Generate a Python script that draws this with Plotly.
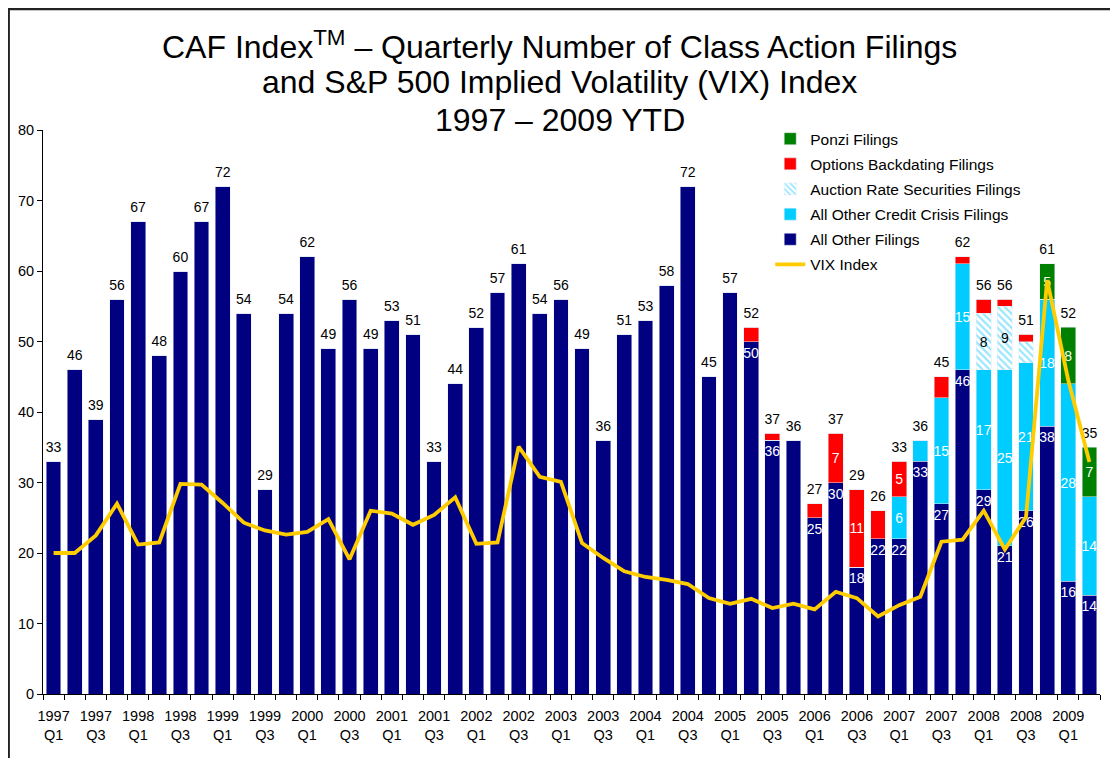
import plotly.graph_objects as go

# quarters 1997 Q1 .. 2009 Q2
years = [1997, 1998, 1999, 2000, 2001, 2002, 2003, 2004, 2005, 2006, 2007, 2008, 2009]
quarters = [f"{y} Q{q}" for y in years for q in (1, 2, 3, 4)][:50]
tick_text = [f"{q.split()[0]}<br>{q.split()[1]}" if q.endswith(("Q1", "Q3")) else "" for q in quarters]

all_other = [33, 46, 39, 56, 67, 48, 60, 67, 72, 54, 29, 54, 62, 49, 56, 49,
             53, 51, 33, 44, 52, 57, 61, 54, 56, 49, 36, 51, 53, 58, 72, 45,
             57, 50, 36, 36, 25, 30, 18, 22, 22, 33, 27, 46, 29, 21, 26, 38,
             16, 14]
credit_crisis = [0] * 40 + [6, 3, 15, 15, 17, 25, 21, 18, 28, 14]
auction_rate = [0] * 44 + [8, 9, 3, 0, 0, 0]
backdating = [0] * 33 + [2, 1, 0, 2, 7, 11, 4, 5, 0, 3, 1, 2, 1, 1, 0, 0, 0]
ponzi = [0] * 47 + [5, 8, 7]
vix = [20.0, 20.0, 22.5, 27.0, 21.2, 21.5, 29.8, 29.7, 27.1, 24.3, 23.2, 22.6,
       23.0, 24.8, 19.1, 26.0, 25.6, 24.0, 25.4, 27.9, 21.3, 21.5, 35.1, 30.8,
       30.1, 21.4, 19.3, 17.4, 16.6, 16.2, 15.6, 13.6, 12.8, 13.5, 12.2, 12.8,
       12.0, 14.5, 13.6, 11.0, 12.6, 13.8, 21.6, 21.9, 26.0, 20.5, 25.1, 58.7,
       44.5, 32.9]

title_lines = ["CAF Index<sup>TM</sup> – Quarterly Number of Class Action Filings",
               "and S&P 500 Implied Volatility (VIX) Index",
               "1997 – 2009 YTD"]

totals = [a + b + c + d + e for a, b, c, d, e in zip(all_other, credit_crisis, auction_rate, backdating, ponzi)]

FONT = "Liberation Sans, Arial, sans-serif"


def seg_text(vals):
    return [str(v) if v >= 5 else "" for v in vals]


fig = go.Figure()

fig.add_trace(go.Bar(
    x=quarters, y=all_other, name="All Other Filings", marker_color="#000080",
    text=[str(v) if v != t else "" for v, t in zip(all_other, totals)],
    textposition="inside", insidetextanchor="end", textangle=0, constraintext="none",
    textfont=dict(color="white", size=14, family=FONT),
    legendrank=5, legendgroup="g5"))
fig.add_trace(go.Bar(
    x=quarters, y=credit_crisis, name="All Other Credit Crisis Filings", marker_color="#00CCFF",
    text=seg_text(credit_crisis), textposition="inside", insidetextanchor="middle",
    textangle=0, constraintext="none",
    textfont=dict(color="white", size=14, family=FONT),
    legendrank=4, legendgroup="g4"))
fig.add_trace(go.Bar(
    x=quarters, y=auction_rate, name="Auction Rate Securities Filings",
    marker=dict(color="white", pattern=dict(shape="\\", fgcolor="#33CCFF", bgcolor="white",
                                            size=5, solidity=0.45)),
    text=seg_text(auction_rate), textposition="inside", insidetextanchor="middle",
    textangle=0, constraintext="none",
    textfont=dict(color="black", size=14, family=FONT),
    legendrank=3, legendgroup="g3"))
fig.add_trace(go.Bar(
    x=quarters, y=backdating, name="Options Backdating Filings", marker_color="#FF0000",
    text=seg_text(backdating), textposition="inside", insidetextanchor="middle",
    textangle=0, constraintext="none",
    textfont=dict(color="white", size=14, family=FONT),
    legendrank=2, legendgroup="g2"))
fig.add_trace(go.Bar(
    x=quarters, y=ponzi, name="Ponzi Filings", marker_color="#008000",
    text=seg_text(ponzi), textposition="inside", insidetextanchor="middle",
    textangle=0, constraintext="none",
    textfont=dict(color="white", size=14, family=FONT),
    legendrank=1, legendgroup="g1"))

# totals above bars
fig.add_trace(go.Scatter(
    x=quarters, y=totals, mode="markers+text", text=[str(t) for t in totals],
    marker=dict(size=8, color="rgba(0,0,0,0)"),
    textposition="top center", textfont=dict(color="black", size=14, family=FONT),
    showlegend=False, hoverinfo="skip"))

fig.add_trace(go.Scatter(
    x=quarters, y=vix, mode="lines", name="VIX Index",
    line=dict(color="#FFCC00", width=3.8), legendrank=6, legendgroup="g6"))

# page body adds an 8px offset, margins compensate for it
fig.update_layout(
    width=1118, height=758,
    barmode="stack", bargap=0.3,
    plot_bgcolor="white", paper_bgcolor="white",
    font=dict(family=FONT, size=14, color="black"),
    margin=dict(l=35, r=26, t=122, b=72, autoexpand=False),
    legend=dict(x=0.688, y=1.014, xanchor="left", yanchor="top",
                bgcolor="rgba(0,0,0,0)", font=dict(size=15.5, family=FONT),
                tracegroupgap=2),
    showlegend=True,
)
for line, ypos in zip(title_lines, [1.1507, 1.0851, 1.0177]):
    fig.add_annotation(text=line, xref="paper", yref="paper", x=0.489, y=ypos,
                       xanchor="center", yanchor="middle", showarrow=False,
                       font=dict(family=FONT, size=32, color="black"))

fig.update_xaxes(
    type="category", tickmode="array", tickvals=quarters, ticktext=tick_text,
    range=[-0.5, len(quarters) - 0.5], autorange=False,
    tickson="boundaries", ticks="outside", ticklen=5, tickcolor="black",
    ticklabelstandoff=9,
    showline=True, linecolor="black", linewidth=1, showgrid=False, automargin=False,
    tickangle=0, tickfont=dict(size=14.5))
fig.update_yaxes(
    range=[0, 80], dtick=10, ticks="outside", ticklen=5, tickcolor="black",
    showline=True, linecolor="black", linewidth=1, showgrid=False, zeroline=False,
    automargin=False, tickfont=dict(size=14.5))

# outer frame
fig.add_shape(type="rect", xref="paper", yref="paper",
              x0=-0.0325, x1=1.0123, y0=-0.2, y1=1.2145,
              line=dict(color="#222222", width=2.5), fillcolor="rgba(0,0,0,0)")

fig.write_html("out.html")
